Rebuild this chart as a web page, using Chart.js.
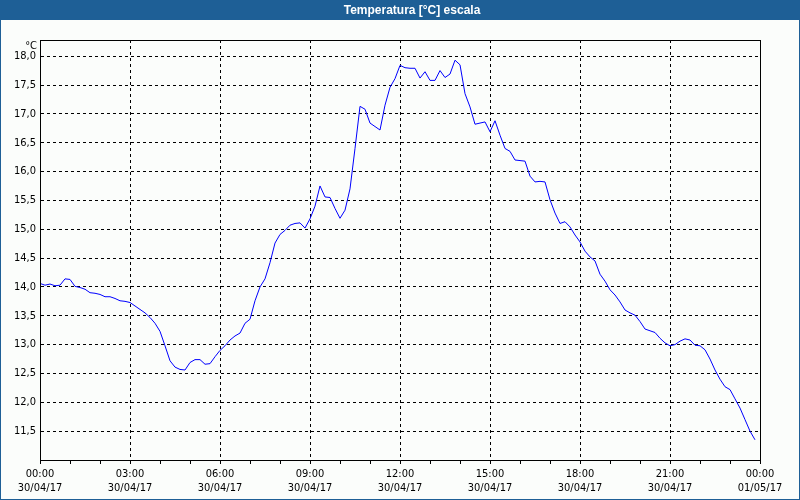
<!DOCTYPE html>
<html>
<head>
<meta charset="utf-8">
<script src="https://cdn.jsdelivr.net/npm/chart.js@4.4.1/dist/chart.umd.min.js"></script>
<style>
  html, body { margin: 0; padding: 0; background: #fbfdfb; }
  #wrap { width: 800px; height: 500px; position: relative; }
</style>
</head>
<body>
<div id="wrap"><canvas id="c" width="800" height="500"></canvas></div>
<script>
const chartTitle = 'Temperatura [°C] escala';
const unitLabel = '°C';
const sampleMinutes = 10;
const temps = [
  14.06, 14.03, 14.05, 14.02, 14.03, 14.14, 14.13, 14.01, 13.99, 13.96,
  13.90, 13.89, 13.87, 13.83, 13.83, 13.80, 13.76, 13.75, 13.73, 13.67,
  13.61, 13.55, 13.47, 13.37, 13.23, 12.98, 12.72, 12.61, 12.57, 12.56,
  12.69, 12.74, 12.74, 12.66, 12.67, 12.79, 12.90, 12.98, 13.08, 13.15,
  13.20, 13.37, 13.44, 13.76, 14.00, 14.14, 14.42, 14.76, 14.91, 14.98,
  15.07, 15.10, 15.11, 15.02, 15.18, 15.40, 15.75, 15.56, 15.55, 15.36,
  15.19, 15.33, 15.70, 16.40, 17.13, 17.08, 16.84, 16.78, 16.72, 17.15,
  17.46, 17.61, 17.84, 17.80, 17.79, 17.79, 17.62, 17.73, 17.58, 17.58,
  17.75, 17.63, 17.69, 17.93, 17.85, 17.35, 17.12, 16.82, 16.84, 16.86,
  16.69, 16.88, 16.63, 16.40, 16.35, 16.20, 16.19, 16.18, 15.92, 15.82,
  15.83, 15.82, 15.51, 15.28, 15.10, 15.13, 15.04, 14.90, 14.78, 14.62,
  14.52, 14.45, 14.22, 14.10, 13.95, 13.86, 13.74, 13.60, 13.55, 13.51,
  13.40, 13.27, 13.24, 13.21, 13.11, 13.03, 12.98, 13.00, 13.06, 13.10,
  13.08, 12.99, 12.98, 12.91, 12.75, 12.56, 12.40, 12.27, 12.22, 12.06,
  11.90, 11.70, 11.50, 11.35
];
const xTickHours = [0, 3, 6, 9, 12, 15, 18, 21, 24];
const xTickTimes = ['00:00', '03:00', '06:00', '09:00', '12:00', '15:00', '18:00', '21:00', '00:00'];
const xTickDates = ['30/04/17', '30/04/17', '30/04/17', '30/04/17', '30/04/17', '30/04/17', '30/04/17', '30/04/17', '01/05/17'];
const yTicks = [11.5, 12.0, 12.5, 13.0, 13.5, 14.0, 14.5, 15.0, 15.5, 16.0, 16.5, 17.0, 17.5, 18.0];
const yMin = 11.0, yMax = 18.28;

const points = temps.map((v, i) => ({ x: i * sampleMinutes / 60, y: v }));
const frameBlue = '#1e5f96';
const FONT = '"DejaVu Sans Condensed", "Liberation Sans", Arial, sans-serif';
const TITLE_FONT = '"Liberation Sans", Arial, sans-serif';

const framePlugin = {
  id: 'frame',
  beforeDraw(chart) {
    const ctx = chart.ctx;
    ctx.save();
    ctx.fillStyle = '#fbfdfb';
    ctx.fillRect(0, 0, chart.width, chart.height);
    ctx.fillStyle = frameBlue;
    ctx.fillRect(0, 0, chart.width, 20);
    ctx.fillStyle = '#ffffff';
    ctx.font = 'bold 12px ' + TITLE_FONT;
    ctx.textAlign = 'center';
    ctx.textBaseline = 'middle';
    ctx.fillText(chartTitle, 412, 10.5);
    ctx.restore();
  },
  afterDraw(chart) {
    const ctx = chart.ctx;
    const a = chart.chartArea;
    ctx.save();
    ctx.strokeStyle = '#000';
    ctx.lineWidth = 1;
    ctx.setLineDash([]);
    ctx.strokeRect(Math.round(a.left) + 0.5, Math.round(a.top) + 0.5,
                   Math.round(a.right - a.left), Math.round(a.bottom - a.top));
    ctx.fillStyle = '#000';
    ctx.font = '11px ' + FONT;
    ctx.textAlign = 'right';
    ctx.textBaseline = 'middle';
    ctx.fillText(unitLabel, a.left - 3, a.top + 6);
    ctx.fillStyle = frameBlue;
    ctx.fillRect(0, 20, 1, chart.height - 20);
    ctx.fillRect(chart.width - 1, 20, 1, chart.height - 20);
    ctx.fillRect(0, chart.height - 1, chart.width, 1);
    ctx.restore();
  }
};

new Chart(document.getElementById('c'), {
  type: 'line',
  data: {
    datasets: [{
      data: points,
      borderColor: '#0000ff',
      borderWidth: 1,
      pointRadius: 0,
      tension: 0,
      fill: false
    }]
  },
  options: {
    responsive: false,
    animation: false,
    devicePixelRatio: 1,
    layout: { padding: { left: 0, right: 40, top: 40, bottom: 0 } },
    plugins: {
      legend: { display: false },
      tooltip: { enabled: false },
      title: { display: false }
    },
    scales: {
      x: {
        type: 'linear',
        min: 0,
        max: 24,
        afterFit(scale) { scale.height = 40; },
        afterBuildTicks(scale) {
          const t = [];
          for (let h = 0; h <= 24; h++) t.push({ value: h });
          scale.ticks = t;
        },
        ticks: {
          autoSkip: false,
          maxRotation: 0,
          color: '#000',
          padding: 3,
          font: { family: FONT, size: 11, lineHeight: 1.27 },
          callback(v) {
            const k = xTickHours.indexOf(v);
            return k >= 0 ? [xTickTimes[k], xTickDates[k]] : '';
          }
        },
        grid: {
          color(ctx) {
            const v = ctx.tick ? ctx.tick.value : -1;
            return (v % 3 === 0 && v > 0 && v < 24) ? '#000' : 'rgba(0,0,0,0)';
          },
          tickColor: '#000',
          tickLength: 4,
          tickBorderDash: [],
          lineWidth: 1
        },
        border: { display: true, color: '#000', width: 1, dash: [3, 3] }
      },
      y: {
        type: 'linear',
        min: yMin,
        max: yMax,
        afterFit(scale) { scale.width = 40; },
        afterBuildTicks(scale) {
          scale.ticks = yTicks.map(v => ({ value: v }));
        },
        ticks: {
          color: '#000',
          padding: 4,
          font: { family: FONT, size: 11 },
          callback(v) { return v.toFixed(1).replace('.', ','); }
        },
        grid: {
          color: '#000',
          drawTicks: false,
          lineWidth: 1
        },
        border: { display: true, color: '#000', width: 1, dash: [3, 3] }
      }
    }
  },
  plugins: [framePlugin]
});
</script>
</body>
</html>
